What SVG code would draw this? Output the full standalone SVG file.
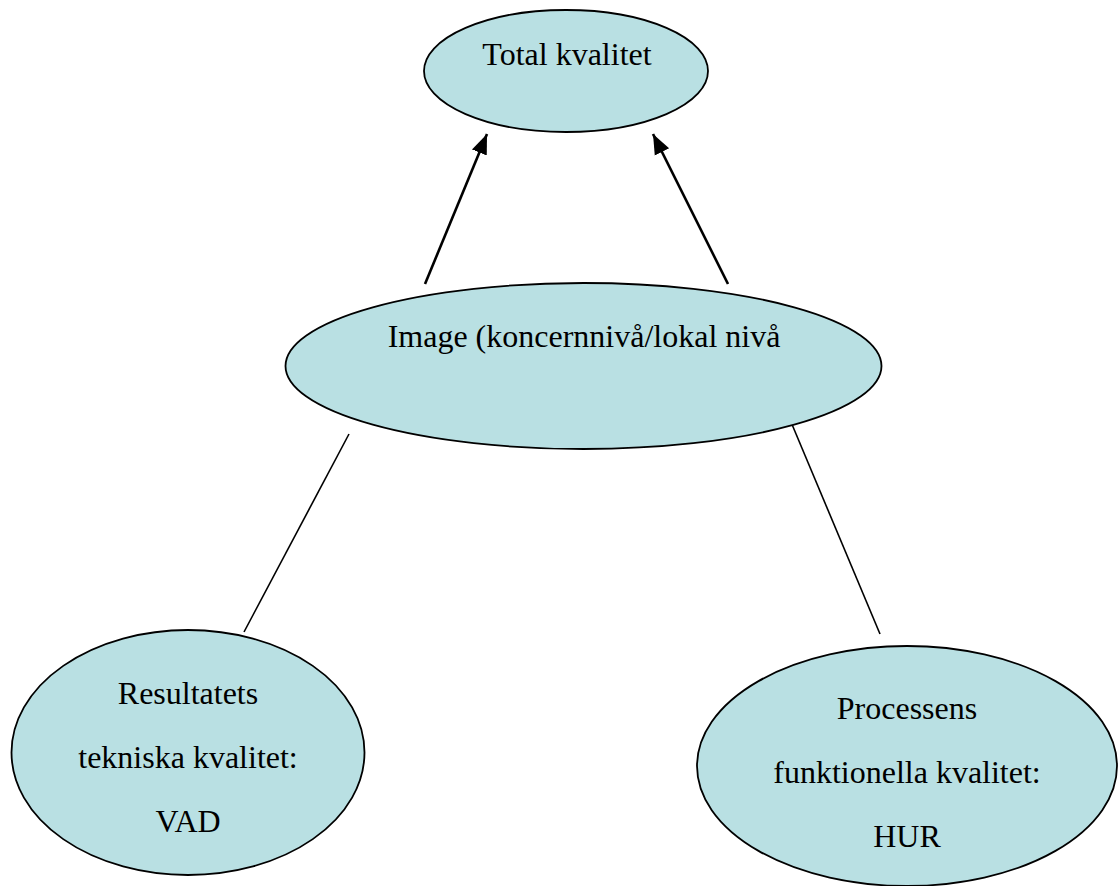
<svg xmlns="http://www.w3.org/2000/svg" width="1118" height="886" viewBox="0 0 1118 886">
<style>
.node{fill:#b9e0e3;stroke:#000;stroke-width:1.8}
.lbl{font-family:"Liberation Serif","Times New Roman",serif;font-size:32px;fill:#000;text-anchor:middle}
.arrow{stroke:#000;stroke-width:2.6;fill:none}
.line{stroke:#000;stroke-width:1.6;fill:none}
</style>
<defs>
<marker id="ah" markerUnits="userSpaceOnUse" markerWidth="22" markerHeight="18" refX="20" refY="8" orient="auto" viewBox="0 0 22 16">
<path d="M0,0 L20,8 L0,16 Z" fill="#000"/>
</marker>
</defs>
<rect width="1118" height="886" fill="#fff"/>
<g id="connectors">
<line class="arrow" x1="425" y1="284" x2="487" y2="134" marker-end="url(#ah)"/>
<line class="arrow" x1="728" y1="284" x2="653" y2="134" marker-end="url(#ah)"/>
<line class="line" x1="349" y1="434" x2="244" y2="632"/>
<line class="line" x1="791" y1="422" x2="880" y2="634"/>
</g>
<g id="total">
<ellipse class="node" cx="566" cy="71" rx="142" ry="61"/>
<text class="lbl" x="567" y="65">Total kvalitet</text>
</g>
<g id="image">
<ellipse class="node" cx="583.5" cy="366" rx="298" ry="83"/>
<text class="lbl" x="584" y="347">Image (koncernnivå/lokal nivå</text>
</g>
<g id="resultatets">
<ellipse class="node" cx="188" cy="752.5" rx="176.5" ry="122.5"/>
<text class="lbl" x="188" y="704">Resultatets</text>
<text class="lbl" x="188" y="768">tekniska kvalitet:</text>
<text class="lbl" x="188" y="832">VAD</text>
</g>
<g id="processens">
<ellipse class="node" cx="907" cy="766" rx="210" ry="120"/>
<text class="lbl" x="907" y="719">Processens</text>
<text class="lbl" x="907" y="783">funktionella kvalitet:</text>
<text class="lbl" x="907" y="847">HUR</text>
</g>
</svg>
